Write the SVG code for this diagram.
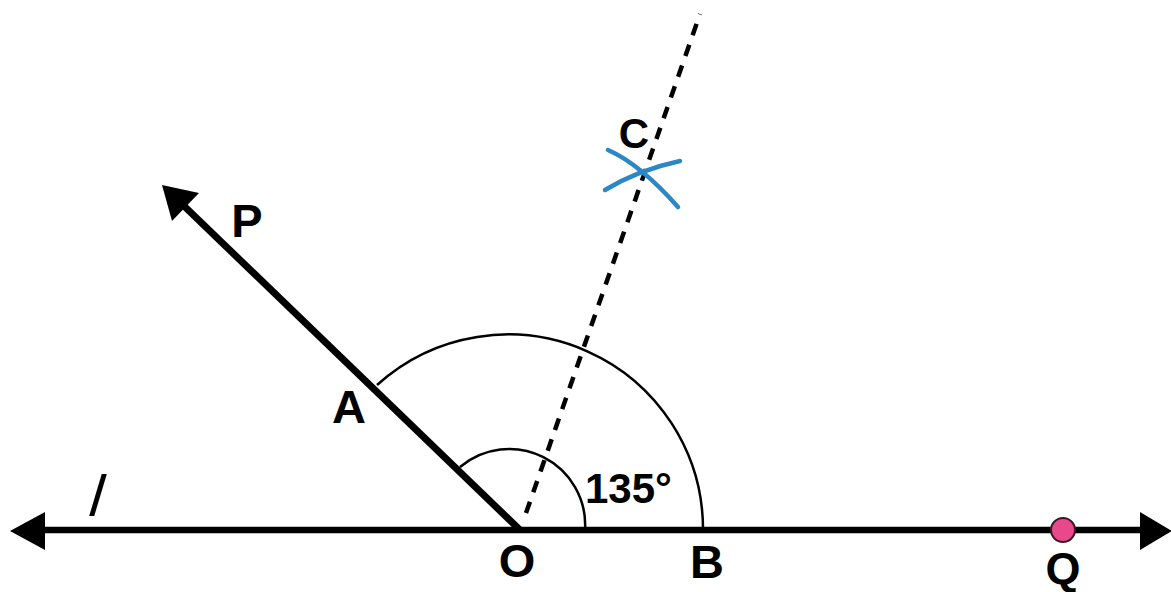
<svg xmlns="http://www.w3.org/2000/svg" width="1171" height="592" viewBox="0 0 1171 592">
  <style>
    .lbl { font-family: "Liberation Sans", Arial, Helvetica, sans-serif; font-weight: bold; fill: #000; }
    .arc { fill: none; stroke: #000; stroke-width: 2.5; }
    .ray { stroke: #000; fill: none; }
    .blue { fill: none; stroke: #2b87c6; stroke-width: 4.5; stroke-linecap: round; }
  </style>
  <rect width="1171" height="592" fill="#fff"/>

  <g id="line-l">
    <line class="ray" x1="40" y1="530" x2="1145" y2="530" stroke-width="6.5"/>
    <polygon points="10,531 45,512 45,550" fill="#000"/>
    <polygon points="1172,531 1140,512 1140,550" fill="#000"/>
    <text x="95" y="516" font-family="Liberation Sans, Arial, sans-serif" font-style="italic" font-size="58" text-anchor="middle" transform="skewX(-6) translate(54,0)">l</text>
  </g>

  <g id="ray-OP">
    <line class="ray" x1="520" y1="530" x2="183" y2="205" stroke-width="7"/>
    <polygon points="162,185 172,221 199,193" fill="#000"/>
  </g>

  <g id="ray-OC">
    <path d="M526,513 L700,14" stroke="#000" stroke-width="4.5" stroke-dasharray="12 10" fill="none"/>
  </g>

  <g id="arcs">
    <path class="arc" d="M460,467 A76,76 0 0 1 585,530"/>
    <path class="arc" d="M377,385 A195,195 0 0 1 703,530"/>
  </g>

  <g id="point-C">
    <path class="blue" d="M608,150 Q640,164 678,207"/>
    <path class="blue" d="M605,190 Q638,170 680,161"/>
    <text class="lbl" x="634" y="148" font-size="42" text-anchor="middle">C</text>
  </g>

  <g id="point-Q">
    <circle cx="1063" cy="530" r="12" fill="#e9498c" stroke="#3a1a25" stroke-width="2"/>
    <text class="lbl" x="1063" y="584" font-size="45" text-anchor="middle">Q</text>
  </g>

  <g id="labels">
    <text class="lbl" x="247" y="237" font-size="47" text-anchor="middle">P</text>
    <text class="lbl" x="349" y="423" font-size="47" text-anchor="middle">A</text>
    <text class="lbl" x="517" y="577" font-size="47" text-anchor="middle">O</text>
    <text class="lbl" x="707" y="578" font-size="47" text-anchor="middle">B</text>
    <text class="lbl" x="585" y="503" font-size="42">135°</text>
  </g>
</svg>
